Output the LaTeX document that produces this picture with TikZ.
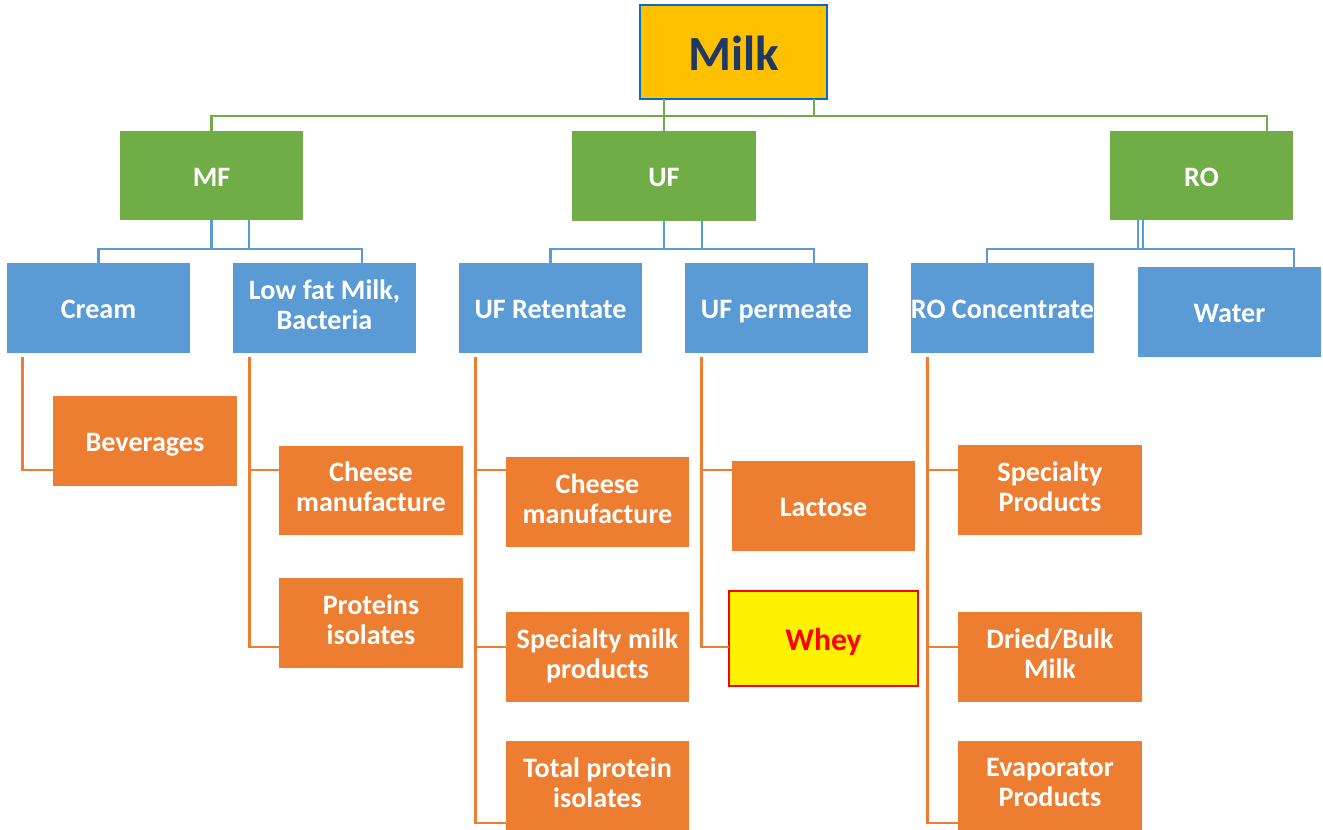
\documentclass[tikz,border=0pt]{standalone}
\usepackage{fontspec}
\setmainfont{Carlito}
\usetikzlibrary{calc}
\usetikzlibrary{positioning}
\definecolor{msgreen}{HTML}{70AD47}
\definecolor{msblue}{HTML}{5B9BD5}
\definecolor{msorange}{HTML}{ED7D31}
\definecolor{msgold}{HTML}{FFC000}
\definecolor{msdarkblue}{HTML}{0070C0}
\definecolor{msnavy}{HTML}{203864}
\newcommand\boxstrut{\rule[-0.25em]{0pt}{1.25em}}
\tikzset{
  box/.style={rectangle, minimum width=3.68cm, minimum height=1.8cm, inner sep=0pt, outer sep=0pt,
    align=center, text=white, font=\bfseries\fontsize{16}{17}\selectfont,
    execute at begin node=\boxstrut, execute at end node=\boxstrut},
  filterbox/.style={box, fill=msgreen},
  streambox/.style={box, fill=msblue},
  productbox/.style={box, fill=msorange},
  greenline/.style={draw=msgreen, line width=1.6pt},
  blueline/.style={draw=msblue, line width=1.6pt},
  orangeline/.style={draw=msorange, line width=1.6pt},
}

\begin{document}
\begin{tikzpicture}[x=0.02cm, y=-0.02cm]
  \useasboundingbox (0,0) rectangle (1323,829);

  \node [box, fill=msgold, draw=msdarkblue, line width=1.6pt, minimum width=3.74cm, minimum height=1.88cm,
    text=msnavy, font=\bfseries\fontsize{28}{30}\selectfont] (milk) at (733.5,52) {Milk};

  % filtration steps
  \node [filterbox] (mf) at (211.5,175.5) {MF};
  \node [filterbox] (uf) at (664,176) {UF};
  \node [filterbox] (ro) at (1201.5,175.5) {RO};

  % streams
  \node [streambox] (cream) at (98.5,308) {Cream};
  \node [streambox] (lowfat) at (324.5,308) {Low fat Milk,\\Bacteria};
  \node [streambox] (ufret) at (550.5,308) {UF Retentate};
  \node [streambox] (ufperm) at (776.5,308) {UF permeate};
  \node [streambox] (rocon) at (1002.5,308) {RO Concentrate};
  \node [streambox] (water) at (1229.5,312) {Water};

  % products
  \node [productbox] (beverages) at (145,441) {Beverages};
  \node [productbox] (cheesemf) at (371,490.5) {Cheese\\manufacture};
  \node [productbox] (proteins) at (371,623) {Proteins\\isolates};
  \node [productbox] (cheeseuf) at (597.5,502) {Cheese\\manufacture};
  \node [productbox] (specmilk) at (597.5,657) {Specialty milk\\products};
  \node [productbox] (totprot) at (597.5,786) {Total protein\\isolates};
  \node [productbox] (lactose) at (823.5,506) {Lactose};
  \node [box, fill=yellow, draw=red, line width=1.6pt, minimum width=3.78cm, minimum height=1.9cm,
    text=red, font=\bfseries\fontsize{18}{20}\selectfont] (whey) at (823.5,638.5) {Whey};
  \node [productbox] (specprod) at (1050,490) {Specialty\\Products};
  \node [productbox] (dried) at (1050,657) {Dried/Bulk\\Milk};
  \node [productbox] (evap) at (1050,786) {Evaporator\\Products};

  % green tree
  \coordinate (bus) at (733,116);
  \draw [greenline] (mf.north) |- (bus) -| ($(ro.north)+(65.5,0)$);
  \draw [greenline] (milk.south -| uf.north) -- (uf.north);
  \draw [greenline] ($(milk.south)+(80.5,0)$) |- (bus);

  % blue tree
  \coordinate (mfbus) at ($(mf.south)+(0,28.5)$);
  \draw [blueline] (cream.north) |- (mfbus) -| ($(lowfat.north)+(37.5,0)$);
  \draw [blueline] (mf.south) -- (mfbus);
  \draw [blueline] ($(mf.south)+(37.5,0)$) -- ($(mfbus)+(37.5,0)$);

  \coordinate (ufbus) at ($(uf.south)+(0,28)$);
  \draw [blueline] (ufret.north) |- (ufbus) -| ($(ufperm.north)+(37.5,0)$);
  \draw [blueline] (uf.south) -- (ufbus);
  \draw [blueline] ($(uf.south)+(38,0)$) -- ($(ufbus)+(38,0)$);

  \coordinate (robus) at ($(ro.south)+(-63.5,28.5)$);
  \draw [blueline] ($(rocon.north)+(-15.5,0)$) |- (robus) -| ($(water.north)+(64.5,0)$);
  \draw [blueline] ($(ro.south)+(-63.5,0)$) -- (robus);
  \draw [blueline] ($(ro.south)+(-58.5,0)$) -- ($(robus)+(5,0)$);

  % orange branches
  \coordinate (r1) at (0,470);
  \coordinate (r2) at (0,647);
  \coordinate (r3) at (0,823);
  \draw [orangeline] ($(cream.south west)+(16,4)$) |- (beverages.west |- r1);
  \draw [orangeline] ($(lowfat.south west)+(17,4)$) |- (cheesemf.west |- r1);
  \draw [orangeline] ($(lowfat.south west)+(17,4)$) |- (proteins.west |- r2);
  \draw [orangeline] ($(ufret.south west)+(17,4)$) |- (cheeseuf.west |- r1);
  \draw [orangeline] ($(ufret.south west)+(17,4)$) |- (specmilk.west |- r2);
  \draw [orangeline] ($(ufret.south west)+(17,4)$) |- (totprot.west |- r3);
  \draw [orangeline] ($(ufperm.south west)+(17,4)$) |- (lactose.west |- r1);
  \draw [orangeline] ($(ufperm.south west)+(17,4)$) |- (whey.west |- r2);
  \draw [orangeline] ($(rocon.south west)+(17,4)$) |- (specprod.west |- r1);
  \draw [orangeline] ($(rocon.south west)+(17,4)$) |- (dried.west |- r2);
  \draw [orangeline] ($(rocon.south west)+(17,4)$) |- (evap.west |- r3);
\end{tikzpicture}
\end{document}
